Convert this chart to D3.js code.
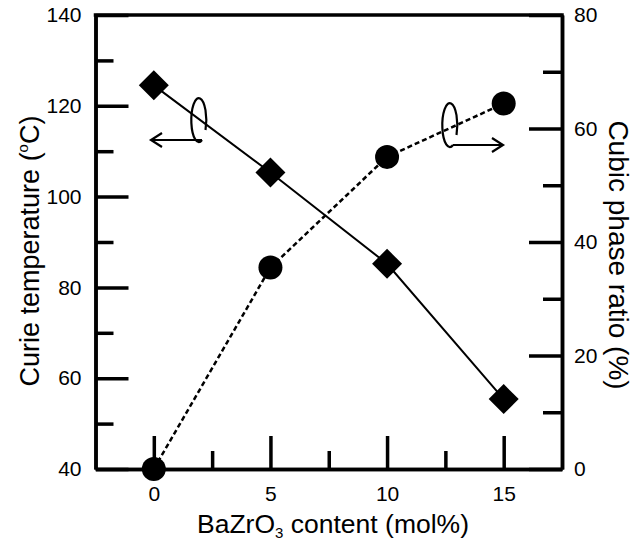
<!DOCTYPE html>
<html>
<head>
<meta charset="utf-8">
<script src="https://cdn.jsdelivr.net/npm/d3@7"></script>
<style>
  body { margin: 0; background: #fff; }
  svg text { font-family: "Liberation Sans", Arial, sans-serif; fill: #000; }
</style>
</head>
<body>
<div id="chart"></div>
<script>
// data
const content = [0, 5, 10, 15];               // BaZrO3 mol%
const curieTemp = [124.5, 105.3, 85.2, 55.4];  // left axis, °C
const cubicRatio = [0, 35.5, 55.0, 64.4];      // right axis, %
const xMajor = [0, 5, 10, 15];
const xMinor = [2.5, 7.5, 12.5];
const leftMajor = [40, 60, 80, 100, 120, 140];
const leftMinor = [50, 70, 90, 110, 130];
const rightMajor = [0, 20, 40, 60, 80];
const rightMinor = [10, 30, 50, 70];

const width = 641, height = 541;
const pLeft = 95.5, pRight = 562, pTop = 15, pBottom = 469;

const svg = d3.select("#chart").append("svg")
    .attr("width", width)
    .attr("height", height);

const x = d3.scaleLinear().domain([-2.5, 17.5]).range([pLeft, pRight]);
const yL = d3.scaleLinear().domain([40, 140]).range([pBottom, pTop]);
const yR = d3.scaleLinear().domain([0, 80]).range([pBottom, pTop]);

function styleAxis(g) {
    g.selectAll("path.domain").attr("stroke", "#000").attr("stroke-width", 3.5);
    g.selectAll(".tick line").attr("stroke", "#000").attr("stroke-width", 3.5);
    g.selectAll(".tick text").attr("font-size", 21).attr("font-family", "Liberation Sans, Arial, sans-serif");
}

// bottom axis (ticks point inward)
svg.append("g").attr("transform", `translate(0,${pBottom})`)
    .call(d3.axisBottom(x).tickValues(xMinor).tickSize(-18).tickFormat("").tickSizeOuter(0))
    .call(styleAxis);
svg.append("g").attr("transform", `translate(0,${pBottom})`)
    .call(d3.axisBottom(x).tickValues(xMajor).tickSize(-33).tickSizeOuter(0))
    .call(styleAxis)
    .selectAll(".tick text").attr("y", 17);

// left axis
svg.append("g").attr("transform", `translate(${pLeft},0)`)
    .call(d3.axisLeft(yL).tickValues(leftMinor).tickSize(-18).tickFormat("").tickSizeOuter(0))
    .call(styleAxis);
svg.append("g").attr("transform", `translate(${pLeft},0)`)
    .call(d3.axisLeft(yL).tickValues(leftMajor).tickSize(-33).tickSizeOuter(0))
    .call(styleAxis)
    .selectAll(".tick text").attr("x", -14);

// right axis
svg.append("g").attr("transform", `translate(${pRight},0)`)
    .call(d3.axisRight(yR).tickValues(rightMinor).tickSize(-19).tickFormat("").tickSizeOuter(0))
    .call(styleAxis);
svg.append("g").attr("transform", `translate(${pRight},0)`)
    .call(d3.axisRight(yR).tickValues(rightMajor).tickSize(-33).tickSizeOuter(0))
    .call(styleAxis)
    .selectAll(".tick text").attr("x", 12);

// top border
svg.append("line")
    .attr("x1", pLeft).attr("x2", pRight)
    .attr("y1", pTop).attr("y2", pTop)
    .attr("stroke", "#000").attr("stroke-width", 3.5).attr("stroke-linecap", "square");

// Curie temperature: solid line + diamonds
const tData = content.map((c, i) => ({ x: c, y: curieTemp[i] }));
svg.append("path").datum(tData)
    .attr("fill", "none").attr("stroke", "#000").attr("stroke-width", 2)
    .attr("d", d3.line().x(d => x(d.x)).y(d => yL(d.y)));

// cubic phase: dashed line + circles
const cData = content.map((c, i) => ({ x: c, y: cubicRatio[i] }));
svg.append("path").datum(cData)
    .attr("fill", "none").attr("stroke", "#000").attr("stroke-width", 2.5)
    .attr("stroke-dasharray", "5,3")
    .attr("d", d3.line().x(d => x(d.x)).y(d => yR(d.y)));

svg.selectAll(".diamond").data(tData).join("path")
    .attr("class", "diamond")
    .attr("transform", d => `translate(${x(d.x)},${yL(d.y)})`)
    .attr("d", "M0,-15L15,0L0,15L-15,0Z")
    .attr("fill", "#000");

svg.selectAll(".dot").data(cData).join("circle")
    .attr("class", "dot")
    .attr("cx", d => x(d.x)).attr("cy", d => yR(d.y))
    .attr("r", 12)
    .attr("fill", "#000");

// rotation-arrow annotations pointing to each axis
function rotArrow(cx, cy, dir) {
    const g = svg.append("g").attr("fill", "none").attr("stroke", "#000").attr("stroke-width", 2.2);
    g.append("path")
        .attr("d", `M${cx + 3},${cy + 22} A7.5,22 0 1 1 ${cx + 6.5},${cy + 12}`);
    const x0 = cx + 3, y0 = cy + 22;
    const x1 = dir < 0 ? x0 - 51 : x0 + 50;
    g.append("line").attr("x1", x0).attr("y1", y0).attr("x2", x1).attr("y2", y0);
    g.append("path")
        .attr("d", `M${x1 - dir * 11},${y0 - 7}L${x1},${y0}L${x1 - dir * 11},${y0 + 7}`);
}
rotArrow(199, 118, -1);
rotArrow(450, 123, 1);

// axis titles
const xt = svg.append("text")
    .attr("x", 333).attr("y", 533)
    .attr("text-anchor", "middle").attr("font-size", 26.5);
xt.append("tspan").text("BaZrO");
xt.append("tspan").text("3").attr("font-size", 15).attr("dy", 5);
xt.append("tspan").text(" content (mol%)").attr("dy", -5);

const yt = svg.append("text")
    .attr("transform", `translate(39,251) rotate(-90)`)
    .attr("text-anchor", "middle").attr("font-size", 27);
yt.append("tspan").text("Curie temperature (");
yt.append("tspan").text("o").attr("font-size", 15).attr("dy", -11);
yt.append("tspan").text("C)").attr("dy", 11);

svg.append("text")
    .attr("transform", `translate(609,255) rotate(90)`)
    .attr("text-anchor", "middle").attr("font-size", 28)
    .text("Cubic phase ratio (%)");
</script>
</body>
</html>
